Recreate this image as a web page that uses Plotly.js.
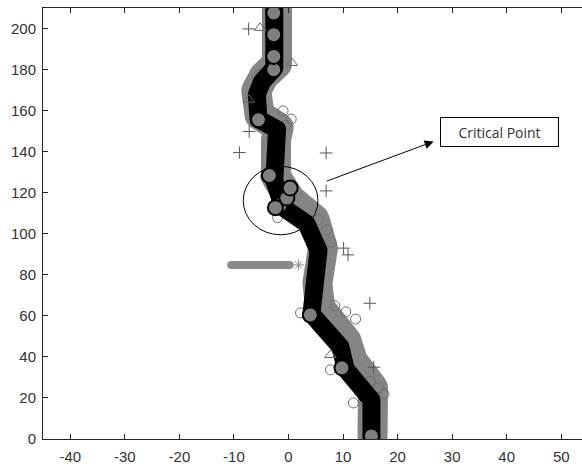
<!DOCTYPE html>
<html>
<head>
<meta charset="utf-8">
<script src="https://cdn.plot.ly/plotly-3.0.1.min.js"></script>
<style>
html,body{margin:0;padding:0;background:#fff;}
.scatterlayer path.js-line{stroke-linejoin:round;stroke-linecap:round;}
</style>
</head>
<body>
<div id="chart" style="width:582px;height:464px;"></div>
<script>
// Trajectory (black core)
var blackX = [15.2, 15.2, 10.5, 9.5, 4.2, 4.5, 5.5, 3.3, -1.0, -2.6, -2.7, -2.1, -5.5, -5.8, -4.9, -2.6, -2.6];
var blackY = [1, 19, 34, 45, 61, 74, 92, 105, 113, 126, 145, 151, 156, 168, 174, 181, 209];
// Gray envelope around the trajectory
var grayX = [15.4, 15.5, 11.8, 10.6, 5.8, 5.3, 6.3, 4.8, 0.3, -2.3, -2.3, -1.8, -5.3, -5.9, -4.5, -2.1, -2.1];
var grayY = [1, 25, 38, 48, 64, 76, 93, 107, 117, 128, 146, 152, 158, 170, 177, 183, 209];
// Large gray circles with black outline
var bigCircX = [15.2, 9.8, 4.0, -1.5, -2.4, -0.3, 0.3, -3.5, -5.5, -2.7, -2.7, -2.7, -2.7];
var bigCircY = [1.5, 34.7, 60.5, 114.2, 112.8, 117.5, 122.4, 128.5, 155.7, 180.1, 186.6, 197.2, 207.8];
// Small open circles along the envelope
var smallCircX = [2.2, 7.7, 11.9, 8.5, 10.5, 12.3, 15.0, 16.5, 17.5, 7.0, 7.8, 5.5, -0.5, 0.5, -1.0, -5.8, -5.0, -4.2, -3.5, 1.0, -2.0];
var smallCircY = [61.5, 33.7, 17.6, 65.0, 62.0, 58.5, 28.0, 25.0, 22.0, 102.0, 96.0, 107.0, 153.0, 156.0, 160.0, 176.0, 178.0, 128.0, 126.0, 111.0, 108.0];
// Plus markers
var plusX = [-7.3, -7.2, -9.0, 6.9, 6.9, 10.1, 10.9, 14.9, 15.6];
var plusY = [200, 150, 139.7, 139.5, 121.0, 93.1, 89.8, 66.2, 35.0];
// Triangle markers
var triX = [-5.2, 0.6, -7.3, 7.7];
var triY = [200.5, 183.4, 165.5, 41.0];
// Horizontal gray run at y = 85 and its asterisk
var barX = [-10.5, 0.2];
var barY = [84.9, 84.9];
var starX = [1.85];
var starY = [84.9];
// Axis ticks
var xTicks = [-40, -30, -20, -10, 0, 10, 20, 30, 40, 50];
var yTicks = [0, 20, 40, 60, 80, 100, 120, 140, 160, 180, 200];
// Critical point ellipse and annotation
var ellipseX = [-8.3, 5.4];
var ellipseY = [99.6, 133.0];
var arrowTail = [6.74, 125.5];
var arrowHead = [26.6, 145.1];
var labelPos = [38.6, 149.7];
var labelText = 'Critical Point';

var traces = [
  {x: grayX, y: grayY, mode: 'lines', line: {color: '#858585', width: 30}, hoverinfo: 'skip'},
  {x: smallCircX, y: smallCircY, mode: 'markers', marker: {symbol: 'circle-open', size: 10, color: '#6e6e6e', line: {width: 1}}, hoverinfo: 'skip'},
  {x: blackX, y: blackY, mode: 'lines', line: {color: '#000000', width: 18}, hoverinfo: 'skip'},
  {x: barX, y: barY, mode: 'lines', line: {color: '#8a8a8a', width: 8}, hoverinfo: 'skip'},
  {x: starX, y: starY, mode: 'markers', marker: {symbol: 'asterisk-open', size: 9, color: '#8a8a8a', line: {width: 1, color: '#8a8a8a'}}, hoverinfo: 'skip'},
  {x: bigCircX, y: bigCircY, mode: 'markers', marker: {symbol: 'circle', size: 15, color: '#7f7f7f', line: {width: 2, color: '#000000'}}, hoverinfo: 'skip'},
  {x: plusX, y: plusY, mode: 'markers', marker: {symbol: 'cross-thin-open', size: 9, color: '#555555', line: {width: 1, color: '#555555'}}, hoverinfo: 'skip'},
  {x: triX, y: triY, mode: 'markers', marker: {symbol: 'triangle-up-open', size: 10, color: '#666666', line: {width: 1, color: '#666666'}}, hoverinfo: 'skip'}
];

var axisFont = {family: 'Liberation Sans, Arial, sans-serif', size: 15, color: '#333333'};

var layout = {
  width: 582, height: 464,
  margin: {l: 43, r: 0, t: 8, b: 25, pad: 0},
  paper_bgcolor: '#ffffff', plot_bgcolor: '#ffffff',
  showlegend: false,
  xaxis: {
    range: [-45, 53.8], tickmode: 'array', tickvals: xTicks, ticktext: xTicks.map(String),
    ticks: 'inside', ticklen: 5, tickcolor: '#262626', tickwidth: 1,
    showline: true, linecolor: '#262626', linewidth: 1, mirror: 'ticks',
    showgrid: false, zeroline: false, tickfont: axisFont, ticklabelstandoff: 4
  },
  yaxis: {
    range: [0, 210.2], tickmode: 'array', tickvals: yTicks, ticktext: yTicks.map(String),
    ticks: 'inside', ticklen: 5, tickcolor: '#262626', tickwidth: 1,
    showline: true, linecolor: '#262626', linewidth: 1, mirror: false,
    showgrid: false, zeroline: false, tickfont: axisFont, ticklabelstandoff: 3
  },
  shapes: [
    {type: 'circle', xref: 'x', yref: 'y', x0: ellipseX[0], x1: ellipseX[1], y0: ellipseY[0], y1: ellipseY[1],
     line: {color: '#000000', width: 1}}
  ],
  annotations: [
    {x: arrowHead[0], y: arrowHead[1], ax: arrowTail[0], ay: arrowTail[1], axref: 'x', ayref: 'y', xref: 'x', yref: 'y',
     text: '', showarrow: true, arrowhead: 2, arrowsize: 1.8, arrowwidth: 1, arrowcolor: '#000000'},
    {x: labelPos[0], y: labelPos[1], xref: 'x', yref: 'y', text: labelText, showarrow: false,
     font: {family: 'Open Sans, sans-serif', size: 14, color: '#333333'},
     bordercolor: '#000000', borderwidth: 1, borderpad: 0, bgcolor: '#ffffff',
     width: 117, height: 28, align: 'center', xanchor: 'center', yanchor: 'middle'}
  ]
};

Plotly.newPlot('chart', traces, layout, {displayModeBar: false, staticPlot: true});
</script>
</body>
</html>
